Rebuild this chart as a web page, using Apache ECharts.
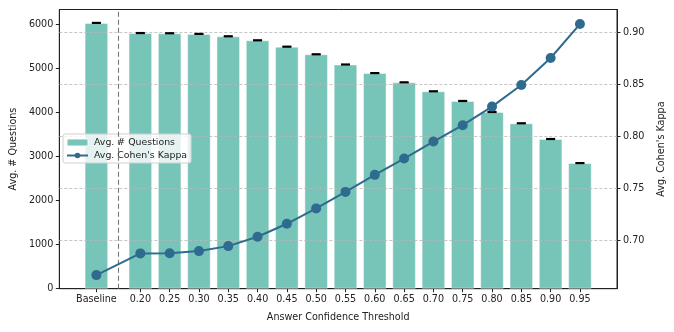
<!DOCTYPE html>
<html>
<head>
<meta charset="utf-8">
<script src="https://cdn.jsdelivr.net/npm/echarts@6/dist/echarts.min.js"></script>
<style>html,body{margin:0;padding:0;background:#fff}#c{width:674px;height:332px}</style>
</head>
<body>
<div id="c"></div>
<script>
var categories = ['Baseline','0.20','0.25','0.30','0.35','0.40','0.45','0.50','0.55','0.60','0.65','0.70','0.75','0.80','0.85','0.90','0.95'];
var avgQuestions = [6040,5810,5805,5790,5736,5645,5500,5327,5095,4900,4690,4486,4266,4016,3759,3402,2855];
var questionsErr = [8,8,8,8,8,8,8,8,8,8,8,8,8,8,8,8,8];
var avgKappa = [0.6666,0.6875,0.6876,0.6897,0.6945,0.7035,0.7160,0.7308,0.7467,0.7631,0.7788,0.7952,0.8109,0.8288,0.8496,0.8756,0.9083];
var leftTicks = [0,1000,2000,3000,4000,5000,6000];
var rightTicks = [0.70,0.75,0.80,0.85,0.90];

// category positions: baseline separated by a wider gap
var pos = categories.map(function(c,i){ return i === 0 ? -1.5 : i - 1; });
var xMin = -2.765, xMax = 16.265;
var gridLeft = 58, gridRight = 55.3;
var plotW = 674 - gridLeft - gridRight;
var unitPx = plotW / (xMax - xMin);

var barData = pos.map(function(p,i){ return [p, avgQuestions[i]]; });
var errData = pos.map(function(p,i){ return [p, avgQuestions[i], questionsErr[i]]; });
var kappaData = pos.map(function(p,i){ return [p, avgKappa[i]]; });

var font = 'DejaVu Sans';
var fs = 9.6;
var chart = echarts.init(document.getElementById('c'), null, {renderer:'canvas'});
chart.setOption({
  animation: false,
  textStyle: {fontFamily: font},
  grid: {left: gridLeft, right: gridRight, top: 9.5, bottom: 43.3, show: true, borderColor: '#222', borderWidth: 1, backgroundColor: 'transparent'},
  legend: {
    left: 63, top: 134, orient: 'vertical',
    itemWidth: 21, itemHeight: 7, itemGap: 4,
    padding: [4, 4, 3, 3],
    borderColor: '#d0d0d0', borderWidth: 1, borderRadius: 2,
    backgroundColor: 'rgba(255,255,255,0.8)',
    textStyle: {fontFamily: font, fontSize: 9.4, color: '#222', padding: [0,0,0,1]},
    data: ['Avg. # Questions', "Avg. Cohen's Kappa"]
  },
  xAxis: {
    type: 'value', min: xMin, max: xMax,
    name: 'Answer Confidence Threshold', nameLocation: 'middle', nameGap: 24,
    nameTextStyle: {fontFamily: font, fontSize: fs, color: '#222'},
    axisLine: {show: true, onZero: false, lineStyle: {color: '#222', width: 1}},
    axisTick: {show: true, inside: false, length: 3.5, lineStyle: {color: '#222'}, customValues: pos},
    axisLabel: {fontFamily: font, fontSize: fs, color: '#222', margin: 6, customValues: pos,
      formatter: function(v){ var i = pos.indexOf(v); return i >= 0 ? categories[i] : ''; }},
    splitLine: {show: false}
  },
  yAxis: [{
    type: 'value', min: 0, max: 6345,
    name: 'Avg. # Questions', nameLocation: 'middle', nameGap: 38,
    nameTextStyle: {fontFamily: font, fontSize: fs, color: '#222'},
    axisLine: {show: true, onZero: false, lineStyle: {color: '#222', width: 1}},
    axisTick: {show: true, length: 3.5, lineStyle: {color: '#222'}, customValues: leftTicks},
    axisLabel: {fontFamily: font, fontSize: fs, color: '#222', margin: 6, customValues: leftTicks,
      formatter: function(v){ return String(Math.round(v)); }},
    splitLine: {show: false}
  }, {
    type: 'value', min: 0.6535, max: 0.9223, position: 'right', z: 3,
    name: "Avg. Cohen's Kappa", nameLocation: 'middle', nameGap: 39, nameRotate: 90,
    nameTextStyle: {fontFamily: font, fontSize: fs, color: '#222'},
    axisLine: {show: true, onZero: false, lineStyle: {color: '#222', width: 1}},
    axisTick: {show: true, length: 3.5, lineStyle: {color: '#222'}, customValues: rightTicks},
    axisLabel: {fontFamily: font, fontSize: fs, color: '#222', margin: 6, customValues: rightTicks,
      formatter: function(v){ return v.toFixed(2); }},
    splitLine: {show: true, lineStyle: {color: '#b8b8b8', type: [3, 2], width: 0.8}}
  }],
  series: [{
    name: 'Avg. # Questions', type: 'bar', yAxisIndex: 0, z: 1,
    barWidth: unitPx * 0.8,
    itemStyle: {color: '#77c4b8', borderColor: 'rgba(255,255,255,0.45)', borderWidth: 1},
    data: barData,
    markLine: {
      silent: true, symbol: 'none', label: {show: false},
      lineStyle: {color: '#777', type: [5, 3], width: 1.1},
      data: [{xAxis: -0.75}]
    }
  }, {
    name: 'errors', type: 'custom', yAxisIndex: 0, z: 4,
    renderItem: function(params, api){
      var x = api.value(0), y = api.value(1), e = api.value(2);
      var p1 = api.coord([x, y - e]), p2 = api.coord([x, y + e]);
      var hw = 4.5;
      return {type: 'group', children: [
        {type: 'line', shape: {x1: p1[0], y1: p1[1], x2: p2[0], y2: p2[1]}, style: {stroke: '#000', lineWidth: 1}},
        {type: 'line', shape: {x1: p1[0]-hw, y1: p1[1], x2: p1[0]+hw, y2: p1[1]}, style: {stroke: '#000', lineWidth: 1.5}},
        {type: 'line', shape: {x1: p2[0]-hw, y1: p2[1], x2: p2[0]+hw, y2: p2[1]}, style: {stroke: '#000', lineWidth: 1.5}}
      ]};
    },
    data: errData
  }, {
    name: "Avg. Cohen's Kappa", type: 'line', yAxisIndex: 1, z: 5,
    symbol: 'circle', symbolSize: 10,
    lineStyle: {color: '#2e6b8e', width: 2},
    itemStyle: {color: '#2e6b8e'},
    data: kappaData
  }]
});
</script>
</body>
</html>
